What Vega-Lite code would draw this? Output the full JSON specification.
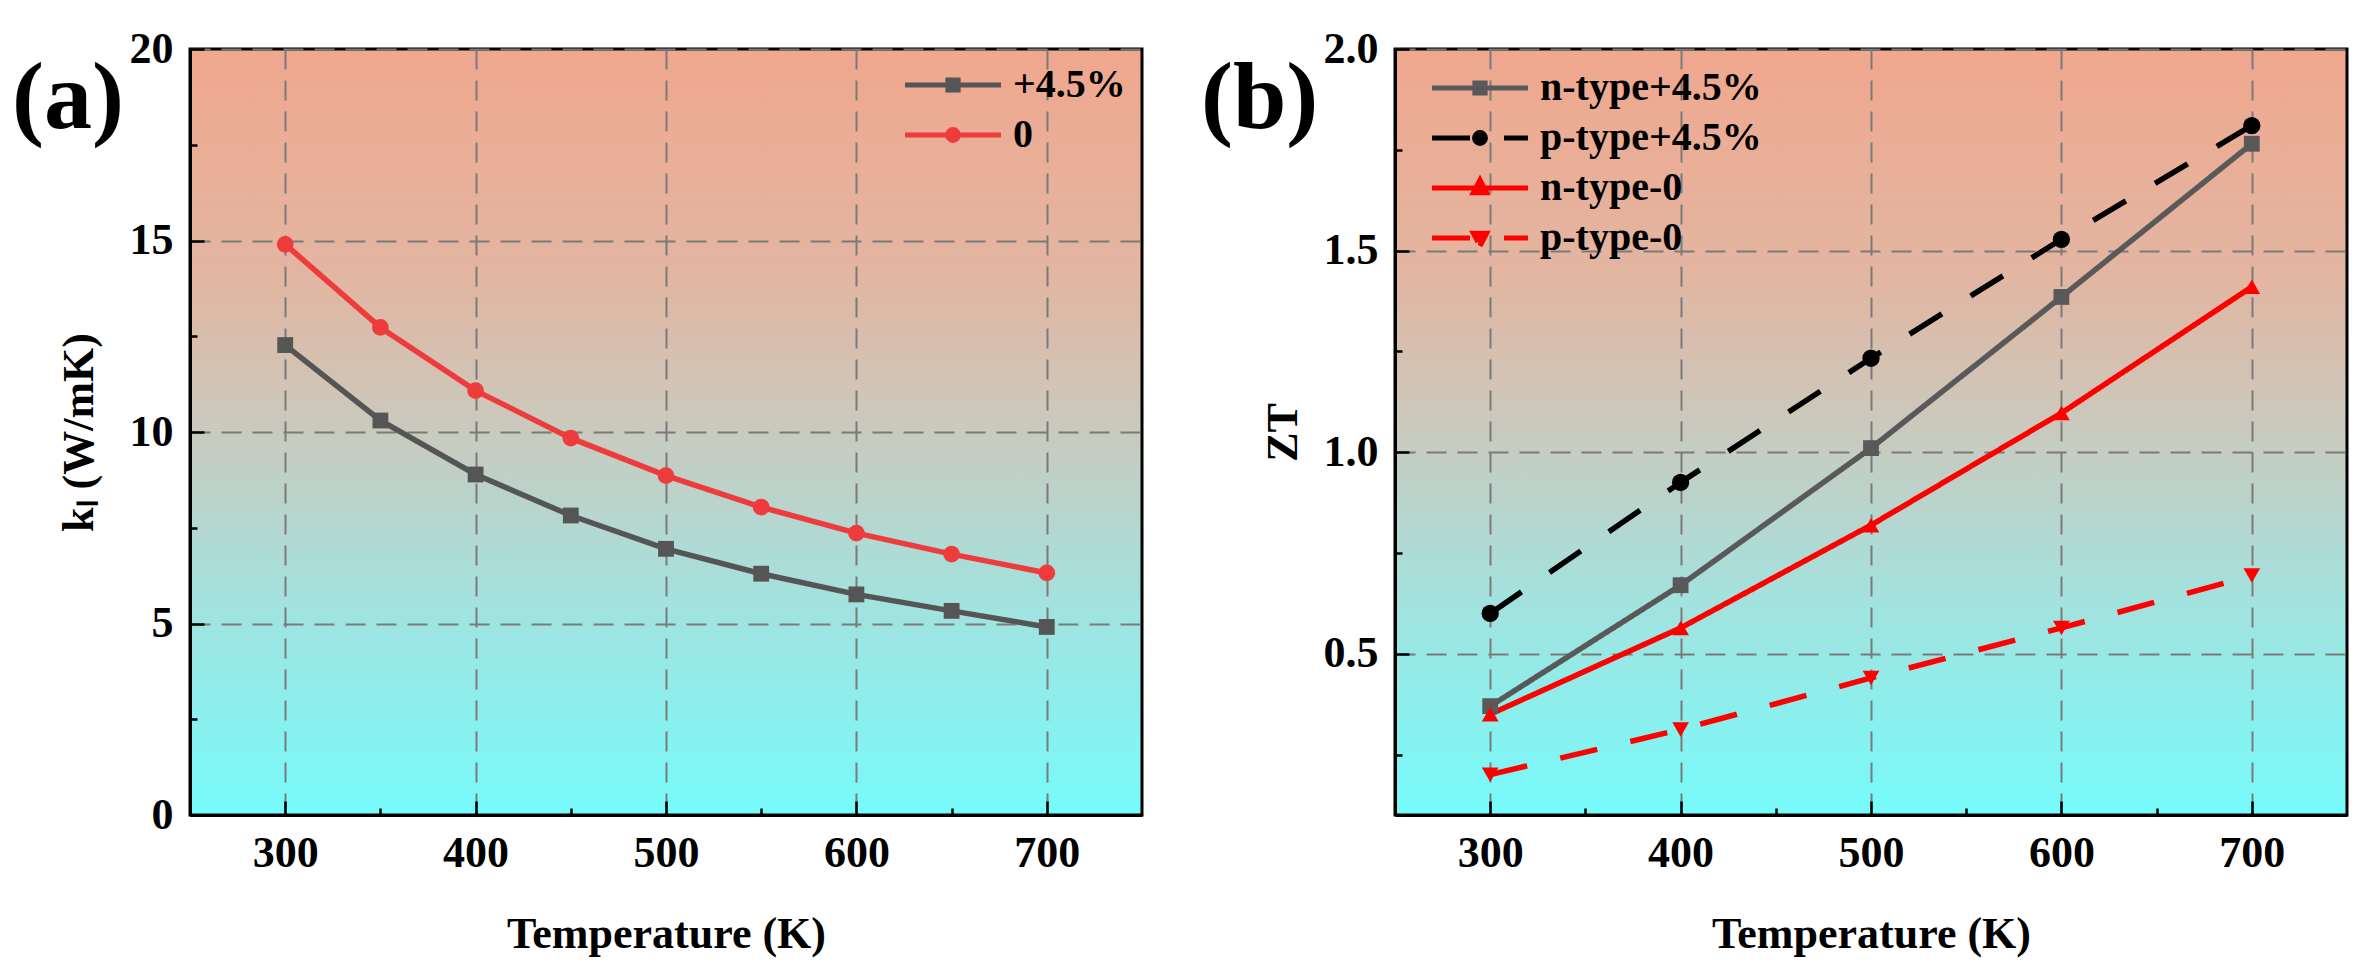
{
  "$schema": "https://vega.github.io/schema/vega-lite/v6.json",
  "background": "white",
  "padding": {"left": 10, "top": 25, "right": 0, "bottom": 0},
  "spacing": 55,
  "resolve": {
    "scale": {"color": "independent", "shape": "independent", "strokeDash": "independent"},
    "legend": {"color": "independent", "shape": "independent", "strokeDash": "independent"}
  },
  "config": {
    "font": "Liberation Serif",
    "view": {
      "stroke": "black",
      "strokeWidth": 3,
      "fill": {
        "gradient": "linear",
        "x1": 0, "y1": 0, "x2": 0, "y2": 1,
        "stops": [
          {"offset": 0, "color": "#F0A78E"},
          {"offset": 0.3, "color": "#E2B6A2"},
          {"offset": 0.5, "color": "#C9CABE"},
          {"offset": 0.72, "color": "#A3E2DE"},
          {"offset": 1, "color": "#76FBFB"}
        ]
      }
    },
    "axis": {
      "domainColor": "black",
      "domainWidth": 3,
      "tickColor": "black",
      "tickWidth": 2.5,
      "labelFont": "Liberation Serif",
      "labelFontSize": 44,
      "labelFontWeight": "bold",
      "labelColor": "black",
      "labelBound": false,
      "labelOverlap": false,
      "titleFont": "Liberation Serif",
      "titleFontSize": 44,
      "titleFontWeight": "bold",
      "titleColor": "black",
      "gridColor": "#7a7a7a",
      "gridWidth": 2,
      "gridDash": [20, 11]
    },
    "legend": {
      "title": null,
      "labelFont": "Liberation Serif",
      "labelFontSize": 40,
      "labelFontWeight": "bold",
      "labelColor": "black",
      "labelLimit": 500,
      "symbolSize": 1024,
      "symbolStrokeWidth": 5,
      "symbolOpacity": 1,
      "labelOffset": 40,
      "rowPadding": 10,
      "padding": 0
    },
    "title": {
      "font": "Liberation Serif",
      "fontSize": 96,
      "fontWeight": "bold",
      "color": "black",
      "anchor": "start",
      "frame": "bounds"
    }
  },
  "hconcat": [
    {
      "width": 952,
      "height": 766,
      "title": {"text": "(a)", "dx": -45, "dy": 125},
      "data": {
        "values": [
          {"T": 300, "k": 12.27, "s": "+4.5%"},
          {"T": 350, "k": 10.30, "s": "+4.5%"},
          {"T": 400, "k": 8.89, "s": "+4.5%"},
          {"T": 450, "k": 7.82, "s": "+4.5%"},
          {"T": 500, "k": 6.95, "s": "+4.5%"},
          {"T": 550, "k": 6.30, "s": "+4.5%"},
          {"T": 600, "k": 5.76, "s": "+4.5%"},
          {"T": 650, "k": 5.33, "s": "+4.5%"},
          {"T": 700, "k": 4.91, "s": "+4.5%"},
          {"T": 300, "k": 14.90, "s": "0"},
          {"T": 350, "k": 12.73, "s": "0"},
          {"T": 400, "k": 11.08, "s": "0"},
          {"T": 450, "k": 9.84, "s": "0"},
          {"T": 500, "k": 8.86, "s": "0"},
          {"T": 550, "k": 8.04, "s": "0"},
          {"T": 600, "k": 7.36, "s": "0"},
          {"T": 650, "k": 6.81, "s": "0"},
          {"T": 700, "k": 6.32, "s": "0"}
        ]
      },
      "encoding": {
        "x": {
          "field": "T",
          "type": "quantitative",
          "scale": {"domain": [250, 750], "nice": false},
          "axis": {
            "title": "Temperature (K)",
            "values": [300, 350, 400, 450, 500, 550, 600, 650, 700],
            "labelExpr": "datum.value % 100 === 0 ? datum.label : ''",
            "tickSize": {"condition": {"test": "datum.value % 100 === 0", "value": -14}, "value": -7},
            "gridOpacity": {"condition": {"test": "datum.value % 100 === 0", "value": 1}, "value": 0},
            "labelPadding": 30,
            "titlePadding": 30
          }
        },
        "y": {
          "field": "k",
          "type": "quantitative",
          "scale": {"domain": [0, 20], "nice": false},
          "axis": {
            "title": "kₗ (W/mK)",
            "values": [0, 2.5, 5, 7.5, 10, 12.5, 15, 17.5, 20],
            "labelExpr": "datum.value % 5 === 0 ? datum.label : ''",
            "tickSize": {"condition": {"test": "datum.value % 5 === 0", "value": -14}, "value": -7},
            "gridOpacity": {"condition": {"test": "datum.value % 5 === 0", "value": 1}, "value": 0},
            "labelPadding": 31,
            "titlePadding": 28
          }
        },
        "color": {
          "field": "s",
          "type": "nominal",
          "scale": {"domain": ["+4.5%", "0"], "range": ["#555555", "#EE3B3B"]},
          "legend": {"orient": "top-right", "offset": 16}
        }
      },
      "layer": [
        {
          "mark": {"type": "line", "strokeWidth": 5.5}
        },
        {
          "transform": [{"filter": "datum.s === '+4.5%'"}],
          "mark": {"type": "point", "shape": "square", "filled": true, "opacity": 1, "size": 250},
          "encoding": {
            "color": {"field": "s", "type": "nominal", "legend": null}
          }
        },
        {
          "transform": [{"filter": "datum.s === '0'"}],
          "mark": {"type": "point", "shape": "circle", "filled": true, "opacity": 1, "size": 280},
          "encoding": {
            "color": {"field": "s", "type": "nominal", "legend": null}
          }
        },
        {
          "transform": [{"filter": "false"}],
          "mark": {"type": "point", "filled": true, "opacity": 1, "size": 1024},
          "encoding": {
            "shape": {
              "field": "s",
              "type": "nominal",
              "scale": {
                "domain": ["+4.5%", "0"],
                "range": [
                  "M-3,0H3M-0.32,-0.32H0.32V0.32H-0.32Z",
                  "M-3,0H3M-0.34,0A0.34,0.34 0 1,0 0.34,0A0.34,0.34 0 1,0 -0.34,0Z"
                ]
              }
            }
          }
        }
      ]
    },
    {
      "width": 952,
      "height": 766,
      "title": {"text": "(b)", "dx": -60, "dy": 125},
      "data": {
        "values": [
          {"T": 300, "zt": 0.37, "s": "n-type+4.5%"},
          {"T": 400, "zt": 0.67, "s": "n-type+4.5%"},
          {"T": 500, "zt": 1.01, "s": "n-type+4.5%"},
          {"T": 600, "zt": 1.385, "s": "n-type+4.5%"},
          {"T": 700, "zt": 1.765, "s": "n-type+4.5%"},
          {"T": 300, "zt": 0.60, "s": "p-type+4.5%"},
          {"T": 400, "zt": 0.925, "s": "p-type+4.5%"},
          {"T": 500, "zt": 1.233, "s": "p-type+4.5%"},
          {"T": 600, "zt": 1.528, "s": "p-type+4.5%"},
          {"T": 700, "zt": 1.81, "s": "p-type+4.5%"},
          {"T": 300, "zt": 0.35, "s": "n-type-0"},
          {"T": 400, "zt": 0.564, "s": "n-type-0"},
          {"T": 500, "zt": 0.819, "s": "n-type-0"},
          {"T": 600, "zt": 1.097, "s": "n-type-0"},
          {"T": 700, "zt": 1.41, "s": "n-type-0"},
          {"T": 300, "zt": 0.20, "s": "p-type-0"},
          {"T": 400, "zt": 0.312, "s": "p-type-0"},
          {"T": 500, "zt": 0.44, "s": "p-type-0"},
          {"T": 600, "zt": 0.564, "s": "p-type-0"},
          {"T": 700, "zt": 0.694, "s": "p-type-0"}
        ]
      },
      "encoding": {
        "x": {
          "field": "T",
          "type": "quantitative",
          "scale": {"domain": [250, 750], "nice": false},
          "axis": {
            "title": "Temperature (K)",
            "values": [300, 350, 400, 450, 500, 550, 600, 650, 700],
            "labelExpr": "datum.value % 100 === 0 ? datum.label : ''",
            "tickSize": {"condition": {"test": "datum.value % 100 === 0", "value": -14}, "value": -7},
            "gridOpacity": {"condition": {"test": "datum.value % 100 === 0", "value": 1}, "value": 0},
            "labelPadding": 30,
            "titlePadding": 30
          }
        },
        "y": {
          "field": "zt",
          "type": "quantitative",
          "scale": {"domain": [0.1, 2.0], "nice": false, "zero": false},
          "axis": {
            "title": "ZT",
            "format": ".1f",
            "values": [0.25, 0.5, 0.75, 1.0, 1.25, 1.5, 1.75, 2.0],
            "labelExpr": "round(datum.value * 100) % 50 === 0 ? datum.label : ''",
            "tickSize": {"condition": {"test": "round(datum.value * 100) % 50 === 0", "value": -14}, "value": -7},
            "gridOpacity": {"condition": {"test": "round(datum.value * 100) % 50 === 0", "value": 1}, "value": 0},
            "labelPadding": 31,
            "titlePadding": 18
          }
        },
        "color": {
          "field": "s",
          "type": "nominal",
          "scale": {
            "domain": ["n-type+4.5%", "p-type+4.5%", "n-type-0", "p-type-0"],
            "range": ["#595959", "#000000", "#FF0000", "#FF0000"]
          },
          "legend": {"orient": "none", "legendX": 65, "legendY": 19}
        }
      },
      "layer": [
        {
          "mark": {"type": "line", "strokeWidth": 5.5},
          "encoding": {
            "strokeDash": {
              "field": "s",
              "type": "nominal",
              "scale": {
                "domain": ["n-type+4.5%", "p-type+4.5%", "n-type-0", "p-type-0"],
                "range": [[1, 0], [38, 34], [1, 0], [38, 34]]
              }
            }
          }
        },
        {
          "transform": [{"filter": "datum.s === 'n-type+4.5%'"}],
          "mark": {"type": "point", "shape": "square", "filled": true, "opacity": 1, "size": 250},
          "encoding": {"color": {"field": "s", "type": "nominal", "legend": null}}
        },
        {
          "transform": [{"filter": "datum.s === 'p-type+4.5%'"}],
          "mark": {"type": "point", "shape": "circle", "filled": true, "opacity": 1, "size": 300},
          "encoding": {"color": {"field": "s", "type": "nominal", "legend": null}}
        },
        {
          "transform": [{"filter": "datum.s === 'n-type-0'"}],
          "mark": {"type": "point", "shape": "triangle-up", "filled": true, "opacity": 1, "size": 280},
          "encoding": {"color": {"field": "s", "type": "nominal", "legend": null}}
        },
        {
          "transform": [{"filter": "datum.s === 'p-type-0'"}],
          "mark": {"type": "point", "shape": "triangle-down", "filled": true, "opacity": 1, "size": 280},
          "encoding": {"color": {"field": "s", "type": "nominal", "legend": null}}
        },
        {
          "transform": [{"filter": "false"}],
          "mark": {"type": "point", "filled": true, "opacity": 1, "size": 1024},
          "encoding": {
            "shape": {
              "field": "s",
              "type": "nominal",
              "scale": {
                "domain": ["n-type+4.5%", "p-type+4.5%", "n-type-0", "p-type-0"],
                "range": [
                  "M-3,0H3M-0.32,-0.32H0.32V0.32H-0.32Z",
                  "M-3,0H3M-0.34,0A0.34,0.34 0 1,0 0.34,0A0.34,0.34 0 1,0 -0.34,0Z",
                  "M-3,0H3M0,-0.5L0.42,0.3H-0.42Z",
                  "M-3,0H3M0,0.5L0.42,-0.3H-0.42Z"
                ]
              }
            }
          }
        }
      ]
    }
  ]
}
